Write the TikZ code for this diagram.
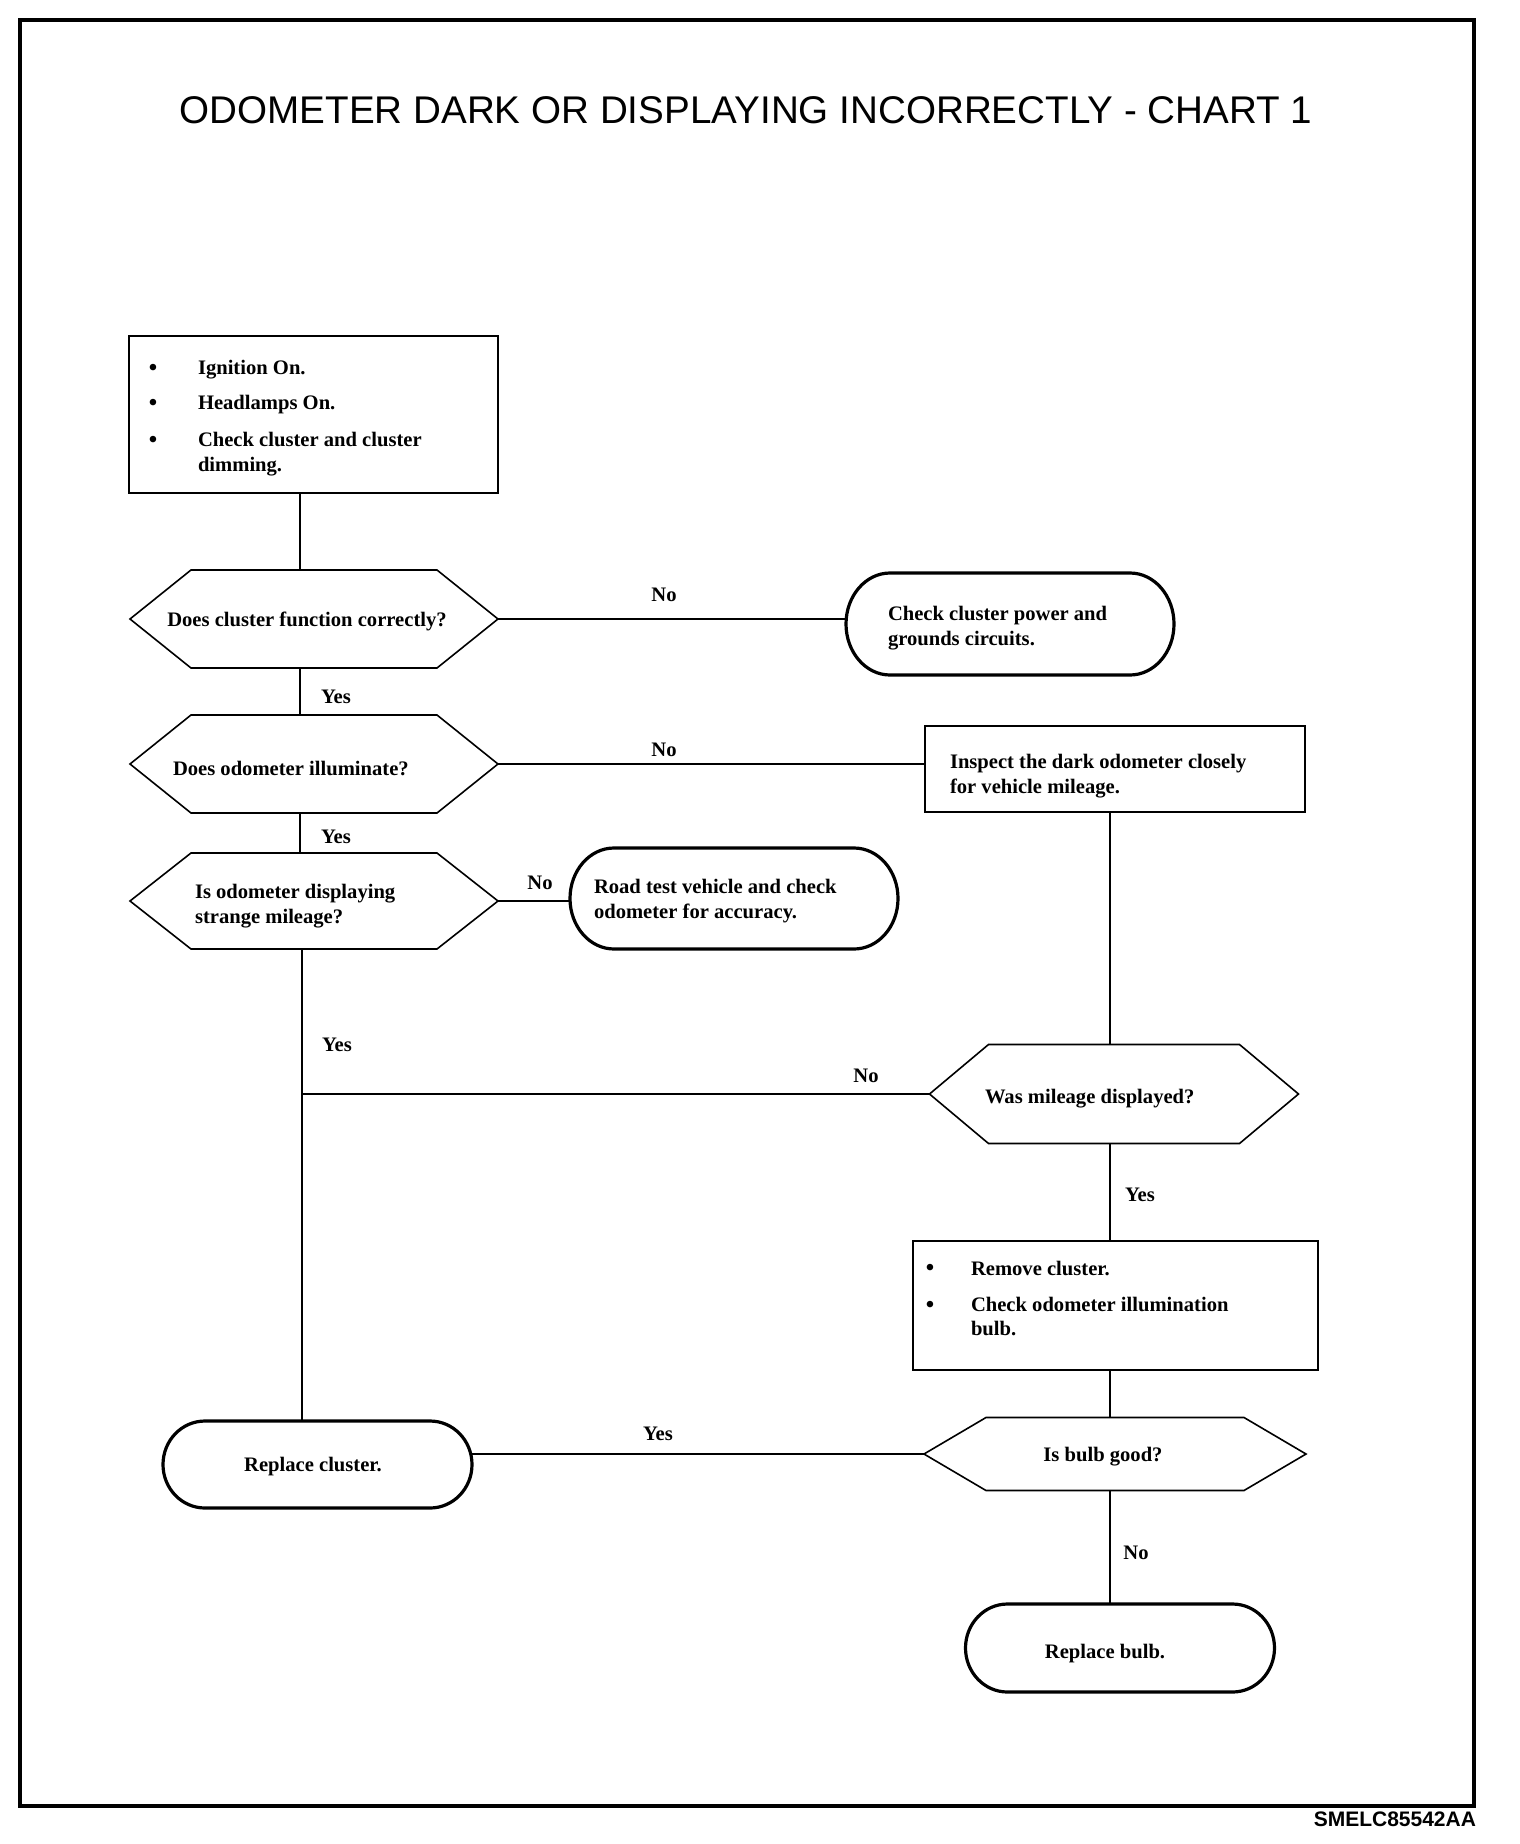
\documentclass[tikz,border=0pt]{standalone}
\usepackage{fontspec}
\setmainfont{Liberation Serif}
\newfontfamily\titlefont{Liberation Sans}
\usetikzlibrary{calc}
\newcommand\hexshape[6]{% name cx cy w h inset
  \node[minimum width=#4pt, minimum height=#5pt] (#1) at (#2,#3) {};
  \draw[hexline] ({#2-#4/2},#3) -- ({#2-#4/2+#6},{#3-#5/2}) -- ({#2+#4/2-#6},{#3-#5/2}) -- ({#2+#4/2},#3) -- ({#2+#4/2-#6},{#3+#5/2}) -- ({#2-#4/2+#6},{#3+#5/2}) -- cycle;
}
\newcommand\ovalshape[6]{% name cx cy w h rx
  \node[minimum width=#4pt, minimum height=#5pt] (#1) at (#2,#3) {};
  \draw[ovalline] ({#2-#4/2+#6},{#3-#5/2}) -- ({#2+#4/2-#6},{#3-#5/2}) arc[start angle=-90,end angle=90,x radius=#6,y radius=#5/2] -- ({#2-#4/2+#6},{#3+#5/2}) arc[start angle=90,end angle=270,x radius=#6,y radius=#5/2] -- cycle;
}
\begin{document}
\begin{tikzpicture}[x=1pt,y=-1pt,
  every node/.style={inner sep=0pt, outer sep=0pt},
  conn/.style={line width=1.7pt},
  thinbox/.style={draw, line width=1.8pt},
  hexline/.style={line width=1.6pt, line join=miter},
  ovalline/.style={line width=3.2pt},
  txt/.style={font=\fontsize{20.6}{24.5}\selectfont\bfseries, anchor=west, align=left},
  ctxt/.style={font=\fontsize{20.6}{24.5}\selectfont\bfseries, align=center},
  lbl/.style={font=\fontsize{20.6}{24.5}\selectfont\bfseries},
  dot/.style={font=\fontsize{24}{24}\selectfont\bfseries},
  ]
\useasboundingbox (0,0) rectangle (1520,1844);
\fill[white] (0,0) rectangle (1520,1844);
\node[draw, line width=3.5pt, minimum width=1454pt, minimum height=1786pt] (frame) at (747,913) {};
\node[font=\titlefont\fontsize{38.6}{40}\selectfont] (title) at (746,110) {ODOMETER DARK OR DISPLAYING INCORRECTLY - CHART 1};
\node[font=\titlefont\bfseries\fontsize{21}{22}\selectfont, anchor=east] (code) at (1476,1819) {SMELC85542AA};

\coordinate (L) at (300,0);
\coordinate (L2) at (302,0);
\coordinate (R) at (1110,0);

% box 1
\node[thinbox, minimum width=369pt, minimum height=157pt] (b1) at (313.5,414.5) {};
\node[dot] (b1d1) at (153,370) {\textbullet};
\node[dot] (b1d2) at (153,405) {\textbullet};
\node[dot] (b1d3) at (153,442) {\textbullet};
\node[txt] (b1t1) at (198,370) {Ignition On.};
\node[txt] (b1t2) at (198,405) {Headlamps On.};
\node[txt] (b1t3) at (198,454) {Check cluster and cluster\\dimming.};

% hexagons
\hexshape{h1}{314}{619}{368}{98}{61}
\node[ctxt] (h1t) at (307,621) {Does cluster function correctly?};
\hexshape{h2}{314}{764}{368}{98}{61}
\node[txt] (h2t) at (173,768) {Does odometer illuminate?};
\hexshape{h3}{314}{901}{368}{96}{61}
\node[txt] (h3t) at (195,906) {Is odometer displaying\\strange mileage?};
\hexshape{h4}{1114}{1094}{369}{99}{59}
\node[txt] (h4t) at (985,1099) {Was mileage displayed?};
\hexshape{h5}{1115}{1454}{382}{73}{62}
\node[ctxt] (h5t) at (1103,1457) {Is bulb good?};

% ovals
\ovalshape{o1}{1010}{624}{328}{102}{44}
\node[txt] (o1t) at (888,628) {Check cluster power and\\grounds circuits.};
\ovalshape{o2}{734}{898.5}{328}{101}{44}
\node[txt] (o2t) at (594,901) {Road test vehicle and check\\odometer for accuracy.};
\ovalshape{o3}{317.5}{1464.5}{309}{87}{42}
\node[ctxt] (o3t) at (313,1467) {Replace cluster.};
\ovalshape{o4}{1120}{1648}{309}{88}{42}
\node[ctxt] (o4t) at (1105,1654) {Replace bulb.};

% box 2
\node[thinbox, minimum width=380pt, minimum height=86pt] (b2) at (1115,769) {};
\node[txt] (b2t) at (950,776) {Inspect the dark odometer closely\\for vehicle mileage.};

% box 3
\node[thinbox, minimum width=405pt, minimum height=129pt] (b3) at (1115.5,1305.5) {};
\node[dot] (b3d1) at (930,1270) {\textbullet};
\node[dot] (b3d2) at (930,1307) {\textbullet};
\node[txt] (b3t1) at (971,1268) {Remove cluster.};
\node[txt] (b3t2) at (971,1316.5) {Check odometer illumination\\bulb.};

% connectors
\draw[conn] (b1.south -| L) -- (h1.north -| L);
\draw[conn] (h1.east) -- (h1.east -| o1.west);
\draw[conn] (h1.south -| L) -- (h2.north -| L);
\draw[conn] (h2.east) -- (h2.east -| b2.west);
\draw[conn] (h2.south -| L) -- (h3.north -| L);
\draw[conn] (h3.east) -- (h3.east -| o2.west);
\draw[conn] (h3.south -| L2) -- (o3.north -| L2);
\draw[conn] (L2 |- h4.west) -- (h4.west);
\draw[conn] (b2.south -| R) -- (h4.north -| R);
\draw[conn] (h4.south -| R) -- (b3.north -| R);
\draw[conn] (b3.south -| R) -- (h5.north -| R);
\draw[conn] (h5.west) -- (h5.west -| o3.east);
\draw[conn] (h5.south -| R) -- (o4.north -| R);

% labels
\node[lbl] (n1) at (664,595) {No};
\node[lbl] (y1) at (336,697) {Yes};
\node[lbl] (n2) at (664,750) {No};
\node[lbl] (y2) at (336,837) {Yes};
\node[lbl] (n3) at (540,883) {No};
\node[lbl] (y3) at (337,1045) {Yes};
\node[lbl] (n4) at (866,1076) {No};
\node[lbl] (y4) at (1140,1195) {Yes};
\node[lbl] (y5) at (658,1434) {Yes};
\node[lbl] (n5) at (1136,1553) {No};
\end{tikzpicture}
\end{document}
